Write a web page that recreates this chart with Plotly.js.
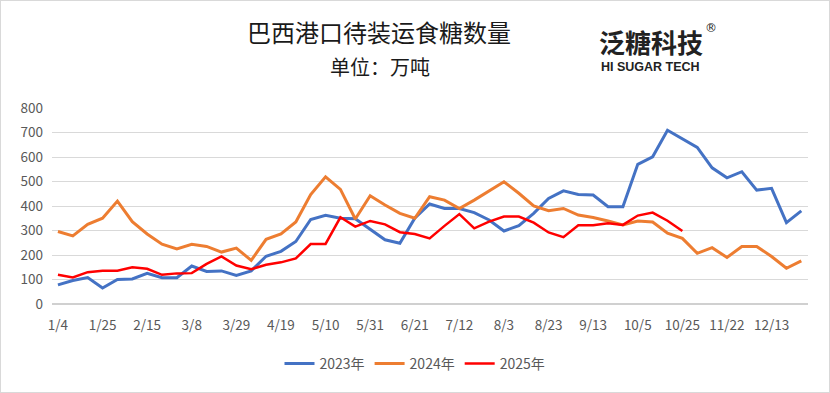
<!DOCTYPE html>
<html>
<head>
<meta charset="utf-8">
<script src="https://cdn.plot.ly/plotly-3.0.1.min.js"></script>
<style>
  html, body { margin: 0; padding: 0; background: #fff; }
  #chart { width: 828px; height: 391px; border: 1px solid #d9d9d9; }
</style>
</head>
<body>
<div id="chart"></div>
<script>
// Weekly categories (51 weeks)
const categories = ["1/4","1/11","1/18","1/25","2/1","2/8","2/15","2/22","3/1","3/8",
  "3/15","3/22","3/29","4/5","4/12","4/19","4/26","5/3","5/10","5/17",
  "5/24","5/31","6/7","6/14","6/21","6/28","7/5","7/12","7/19","7/26",
  "8/3","8/9","8/16","8/23","8/30","9/6","9/13","9/20","9/27","10/5",
  "10/11","10/18","10/25","11/8","11/15","11/22","11/29","12/6","12/13","12/20",
  "12/27"];

const tickLabels = ["1/4","1/25","2/15","3/8","3/29","4/19","5/10","5/31","6/21","7/12",
  "8/3","8/23","9/13","10/5","10/25","11/22","12/13"];

const series2023 = [78,96,108,65,100,102,125,107,107,155,
  133,135,117,135,195,215,255,345,362,350,
  348,305,262,248,350,408,390,390,373,343,
  298,320,370,431,462,447,445,397,397,570,
  601,709,675,639,556,515,540,465,472,332,
  380];

const series2024 = [296,278,325,350,420,336,286,244,225,244,
  235,212,228,178,264,286,335,447,519,468,
  347,442,404,370,350,438,424,390,424,462,
  499,452,400,381,390,363,353,339,323,339,
  335,289,268,207,230,190,235,235,194,146,
  176];

const series2025 = [119,108,130,136,136,150,144,119,125,126,
  164,194,157,142,160,170,186,245,245,354,
  316,339,325,293,286,268,319,367,309,336,
  357,357,332,292,273,321,321,330,323,361,
  373,340,298];

const seriesNames = ["2023年","2024年","2025年"];
const seriesColors = ["#4472C4","#ED7D31","#FF0000"];

const FONT = '"Noto Sans CJK SC", "Noto Sans", sans-serif';

const traces = [series2023, series2024, series2025].map((vals, k) => ({
  type: 'scatter',
  mode: 'lines',
  name: seriesNames[k],
  x: categories.slice(0, vals.length),
  y: vals,
  line: { color: seriesColors[k], width: k === 2 ? 2.5 : 3 },
  hoverinfo: 'x+y+name'
}));

const layout = {
  width: 828,
  height: 391,
  margin: { l: 51, r: 21, t: 107, b: 88 },
  paper_bgcolor: '#ffffff',
  plot_bgcolor: '#ffffff',
  font: { family: FONT, size: 13, color: '#595959' },
  showlegend: true,
  legend: {
    orientation: 'h',
    xref: 'container', yref: 'container',
    x: 0.5, xanchor: 'center',
    y: 0.072, yanchor: 'middle',
    font: { family: FONT, size: 14, color: '#595959' },
    itemwidth: 30,
    tracegroupgap: 0
  },
  xaxis: {
    type: 'category',
    categoryorder: 'array',
    categoryarray: categories,
    range: [-0.4, 50.45],
    tickmode: 'array',
    tickvals: tickLabels,
    ticktext: tickLabels,
    tickangle: 0,
    showgrid: false,
    zeroline: false,
    showline: false,
    ticks: '',
    ticklabelstandoff: 11,
    tickfont: { family: FONT, size: 13.5, color: '#595959' }
  },
  yaxis: {
    range: [0, 800],
    dtick: 100,
    tick0: 0,
    showgrid: true,
    gridcolor: '#D9D9D9',
    gridwidth: 1,
    zeroline: true,
    zerolinecolor: '#D0D0D0',
    zerolinewidth: 1.5,
    showline: false,
    ticks: '',
    ticklabelstandoff: 8,
    tickfont: { family: FONT, size: 13.5, color: '#595959' }
  },
  annotations: [
    { text: '巴西港口待装运食糖数量', xref: 'paper', yref: 'paper',
      x: (378 - 51) / 756, y: 1 + (107 - 30) / 196, xanchor: 'center', yanchor: 'middle',
      showarrow: false, font: { family: FONT, size: 24, color: '#1a1a1a' } },
    { text: '单位：万吨', xref: 'paper', yref: 'paper',
      x: (379 - 51) / 756, y: 1 + (107 - 65) / 196, xanchor: 'center', yanchor: 'middle',
      showarrow: false, font: { family: FONT, size: 20, color: '#1a1a1a' } },
    { text: '<b>泛糖科技</b>', xref: 'paper', yref: 'paper',
      x: (650 - 51) / 756, y: 1 + (107 - 40) / 196, xanchor: 'center', yanchor: 'middle',
      showarrow: false, font: { family: FONT, size: 26, color: '#222222' } },
    { text: '<b>HI SUGAR TECH</b>', xref: 'paper', yref: 'paper',
      x: (649 - 51) / 756, y: 1 + (107 - 66) / 196, xanchor: 'center', yanchor: 'middle',
      showarrow: false, font: { family: '"Liberation Sans", Arial, sans-serif', size: 12.5, color: '#222222' } },
    { text: '®', xref: 'paper', yref: 'paper',
      x: (710 - 51) / 756, y: 1 + (107 - 27) / 196, xanchor: 'center', yanchor: 'middle',
      showarrow: false, font: { family: '"DejaVu Sans", sans-serif', size: 12, color: '#222222' } }
  ]
};

Plotly.newPlot('chart', traces, layout, { displayModeBar: false, staticPlot: true });
</script>
</body>
</html>
